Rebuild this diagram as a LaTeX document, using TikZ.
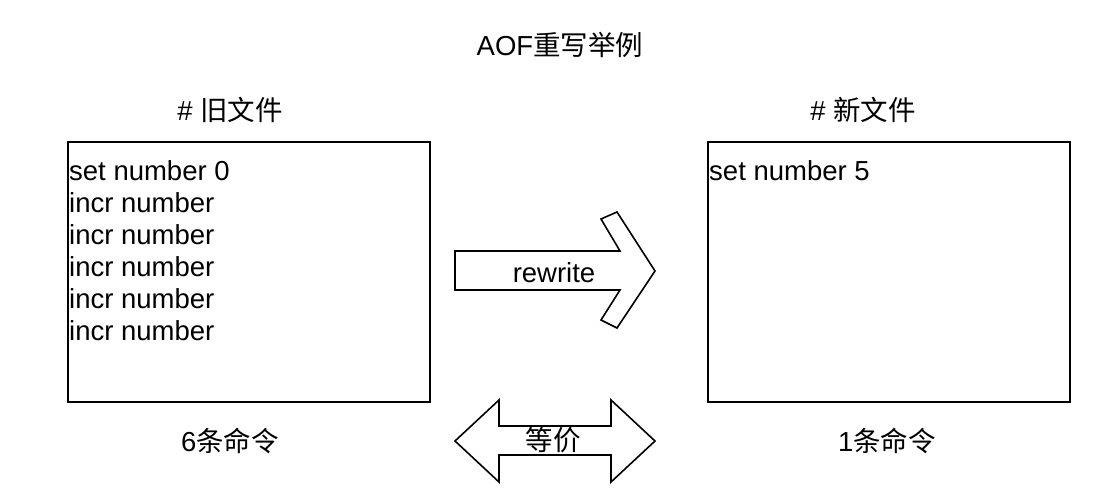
\documentclass[tikz,border=0pt]{standalone}
\usepackage{fontspec}
\setmainfont{Liberation Sans}
\newfontfamily\cjk{Noto Sans CJK SC}
\begin{document}
\begin{tikzpicture}[x=1pt,y=-1pt,
  lbl/.style={inner sep=0pt,font=\fontsize{27.5}{32}\selectfont},
  filebox/.style={draw,line width=1.6pt,minimum width=362pt,minimum height=260pt,inner sep=0pt},
  bigarrow/.style={draw,line width=1.6pt,line join=miter,fill=white}]
\useasboundingbox (0,0) rectangle (1118,488);
\node[lbl] (title) at (560,45) {AOF{\cjk 重写举例}};
\node[lbl] (oldh) at (230,110) {\# {\cjk 旧文件}};
\node[lbl] (newh) at (863,110) {\# {\cjk 新文件}};
\node[filebox,anchor=north west] (oldbox) at (67,141) {};
\node[filebox,anchor=north west] (newbox) at (707,141) {};
\node[lbl,anchor=north west,align=left] (oldtext) at (69,160)
  {set number 0\\incr number\\incr number\\incr number\\incr number\\incr number};
\node[lbl,anchor=north west,align=left] (newtext) at (709,160) {set number 5};
\node[lbl] (oldcnt) at (230,441) {6{\cjk 条命令}};
\node[lbl] (newcnt) at (887,441) {1{\cjk 条命令}};
\draw[bigarrow] (455,251) -- (620,251) -- (601,219) -- (617,212) -- (655,271)
  -- (617,328) -- (601,320) -- (620,290) -- (455,290) -- cycle;
\node[lbl] (rw) at (554,273) {rewrite};
\draw[bigarrow] (455,441) -- (499,400) -- (499,426) -- (611,426) -- (611,400) -- (655,441)
  -- (611,482) -- (611,455) -- (499,455) -- (499,482) -- cycle;
\node[lbl] (eq) at (553,440) {\cjk 等价};
\end{tikzpicture}
\end{document}
